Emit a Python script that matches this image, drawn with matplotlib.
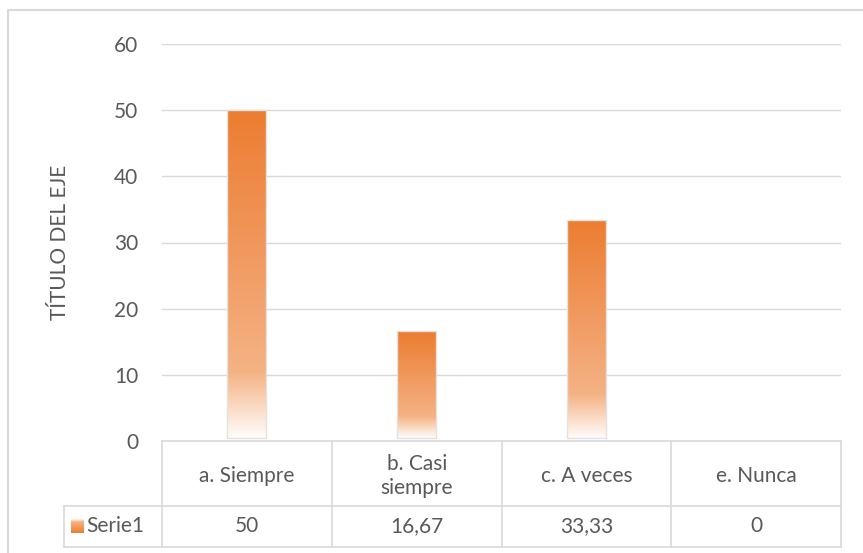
import numpy as np
import matplotlib
matplotlib.use("Agg")
import matplotlib.pyplot as plt
from matplotlib.colors import LinearSegmentedColormap
from matplotlib.patches import Rectangle

categories = ["a. Siempre", "b. Casi\nsiempre", "c. A veces", "e. Nunca"]
values = [50, 16.67, 33.33, 0]
value_labels = ["50", "16,67", "33,33", "0"]
series_name = "Serie1"
yticks = [0, 10, 20, 30, 40, 50, 60]
ylabel = "TÍTULO DEL EJE"

W, H = 863, 553
fig = plt.figure(figsize=(W / 100, H / 100), dpi=100)
plt.rcParams['font.family'] = ['Lato', 'DejaVu Sans']
txt_color = "#595959"
grid_color = "#d9d9d9"
fs = 15

# plot area in pixels
L, R, T, B = 162, 841, 44, 441
ax = fig.add_axes([L / W, 1 - B / H, (R - L) / W, (B - T) / H])
ax.set_xlim(-0.5, len(categories) - 0.5)
ax.set_ylim(0, 60)
ax.set_yticks(yticks)
ax.set_yticklabels([str(t) for t in yticks], fontsize=fs, color=txt_color)
ax.tick_params(axis='y', length=0, pad=17)
ax.set_xticks([])
for s in ax.spines.values():
    s.set_visible(False)
ax.grid(axis='y', color=grid_color, lw=1)
ax.set_axisbelow(True)
ax.set_ylabel(ylabel, fontsize=15, color=txt_color)
ax.yaxis.set_label_coords((70 - L) / (R - L), 0.5)

cmap = LinearSegmentedColormap.from_list(
    "g", [(0.0, (1.0, 0.99, 0.98)), (0.2, (0.96, 0.70, 0.52)),
          (0.45, (0.95, 0.63, 0.42)), (1.0, (0.925, 0.49, 0.19))])
grad = np.linspace(0, 1, 256).reshape(-1, 1)
bw = 0.23
for i, v in enumerate(values):
    if v <= 0:
        continue
    ax.imshow(grad, cmap=cmap, origin='lower', aspect='auto',
              extent=[i - bw / 2, i + bw / 2, 0.5, v], zorder=2, interpolation='bilinear')
    ax.add_patch(Rectangle((i - bw / 2, 0.5), bw, v - 0.5, fill=False,
                           edgecolor="#e2e2e2", lw=1.0, zorder=3))
ax.set_xlim(-0.5, len(categories) - 0.5)
ax.set_ylim(0, 60)

# overlay for table and border
ov = fig.add_axes([0, 0, 1, 1], zorder=5)
ov.set_xlim(0, W)
ov.set_ylim(H, 0)
ov.axis('off')
ov.patch.set_alpha(0)

# outer chart border
ov.plot([8, 8, W + 5], [H + 5, 10, 10], color="#d9d9d9", lw=1.5)

n = len(categories)
colw = (R - L) / n
r0, r1, r2 = 441, 506, 547
lc = "#d9d9d9"
ov.plot([L, R], [r0, r0], color=lc, lw=1.2)
ov.plot([64, R], [r1, r1], color=lc, lw=1.2)
ov.plot([64, R], [r2, r2], color=lc, lw=1.2)
for k in range(n + 1):
    x = L + k * colw
    ov.plot([x, x], [r0, r2], color=lc, lw=1.2)
ov.plot([64, 64], [r1, r2], color=lc, lw=1.2)

for k in range(n):
    xc = L + (k + 0.5) * colw
    ov.text(xc, (r0 + r1) / 2 + 3, categories[k], ha='center', va='center',
            fontsize=fs, color=txt_color, linespacing=1.25)
    ov.text(xc, (r1 + r2) / 2, value_labels[k], ha='center', va='center',
            fontsize=fs, color=txt_color)

# legend key
ov.imshow(grad, cmap=cmap, origin='upper', aspect='auto',
          extent=[71, 84, 533, 519], zorder=6)
ov.set_xlim(0, W)
ov.set_ylim(H, 0)
ov.text(86, (r1 + r2) / 2, series_name, ha='left', va='center',
        fontsize=fs, color=txt_color)

fig.savefig("out.png", dpi=100)
